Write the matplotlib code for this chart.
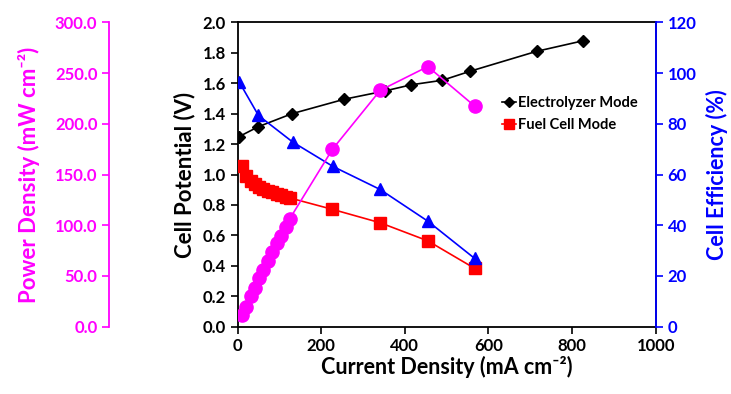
import numpy as np
import matplotlib
matplotlib.use("Agg")
import matplotlib.pyplot as plt
from matplotlib.ticker import FormatStrFormatter

plt.rcParams['font.family'] = ['Lato', 'DejaVu Sans']
plt.rcParams['font.weight'] = 'bold'

# electrolyzer mode: current density (mA cm-2), cell potential (V)
ec_i = [4, 50, 130, 255, 353, 415, 490, 557, 715, 827]
ec_v = [1.25, 1.315, 1.40, 1.495, 1.55, 1.59, 1.62, 1.68, 1.81, 1.88]

# fuel cell mode
fc_i = [10, 20, 31, 41, 52, 62, 73, 83, 94, 104, 115, 125, 227, 341, 455, 567]
fc_v = [1.056, 0.99, 0.96, 0.94, 0.92, 0.905, 0.893, 0.882, 0.872, 0.863,
        0.855, 0.846, 0.771, 0.683, 0.564, 0.383]

# power density (mW cm-2)
pd_i = [10, 20, 31, 41, 52, 62, 73, 83, 94, 104, 115, 125, 227, 341, 455, 567]
pd_p = [11.4, 19.8, 29.8, 38.5, 47.8, 56.1, 65.2, 73.2, 82.0, 89.8, 98.3,
        106.5, 175.0, 233.0, 256.5, 217.5]

# cell efficiency (%)
ef_i = [4, 50, 132, 228, 341, 455, 567]
ef_e = [96.5, 83.3, 72.8, 63.2, 54.1, 41.6, 26.9]

sup = '\u207b\u00b2'  # superscript -2

fig = plt.figure(figsize=(7.31, 3.94), dpi=100)
ax = fig.add_axes([0.325, 0.171, 0.572, 0.772])

ax.plot(fc_i, fc_v, color='#ff0000', lw=1.2, marker='s', ms=8.5, zorder=3,
        label='Fuel Cell Mode')
ax.plot(ec_i, ec_v, color='black', lw=1.2, marker='D', ms=6, zorder=5,
        label='Electrolyzer Mode')
ax.set_xlim(0, 1000)
ax.set_ylim(0, 2.0)
ax.set_xticks(np.arange(0, 1001, 200))
ax.set_yticks(np.arange(0, 2.01, 0.2))
ax.yaxis.set_major_formatter(FormatStrFormatter('%.1f'))
ax.tick_params(labelsize=12, direction='out', length=5, width=1.2)
for s in ax.spines.values():
    s.set_linewidth(1.3)
ax.set_xlabel('Current Density (mA cm' + sup + ')', fontsize=15.5, fontweight='bold', labelpad=1)
ax.set_ylabel('Cell Potential (V)', fontsize=16, fontweight='bold', labelpad=5)

h, l = ax.get_legend_handles_labels()
ax.legend(h[::-1], l[::-1], loc='upper left', bbox_to_anchor=(0.6, 0.8), frameon=False,
          fontsize=10.5, handlelength=1.0, handletextpad=0.1, labelspacing=0.5,
          markerscale=0.8)

# efficiency axis (right)
ax2 = ax.twinx()
ax2.plot(ef_i, ef_e, color='#0000ff', lw=1.2, marker='^', ms=9, zorder=3)
ax2.set_ylim(0, 120)
ax2.set_yticks(np.arange(0, 121, 20))
ax2.tick_params(labelsize=12, colors='#0000ff', direction='out', length=5, width=1.2)
ax2.spines['right'].set_color('#0000ff')
ax2.spines['right'].set_linewidth(1.3)
for k in ['left', 'top', 'bottom']:
    ax2.spines[k].set_visible(False)
ax2.set_ylabel('Cell Efficiency (%)', fontsize=15.5, fontweight='bold', color='#0000ff', labelpad=7)

# power density axis (far left)
ax3 = ax.twinx()
ax3.plot(pd_i, pd_p, color='#ff00ff', lw=1.2, marker='o', ms=9.5, zorder=4)
ax3.set_ylim(0, 300)
ax3.set_yticks(np.arange(0, 301, 50))
ax3.yaxis.set_major_formatter(FormatStrFormatter('%.1f'))
ax3.spines['left'].set_position(('axes', -0.307))
ax3.spines['left'].set_color('#ff00ff')
ax3.spines['left'].set_linewidth(1.3)
for k in ['right', 'top', 'bottom']:
    ax3.spines[k].set_visible(False)
ax3.yaxis.set_label_position('left')
ax3.yaxis.set_ticks_position('left')
ax3.tick_params(labelsize=12, colors='#ff00ff', direction='out', length=5, width=1.2)
ax3.set_ylabel('Power Density (mW cm' + sup + ')', fontsize=16, fontweight='bold',
               color='#ff00ff', labelpad=11)

fig.savefig('out.png', dpi=100)
